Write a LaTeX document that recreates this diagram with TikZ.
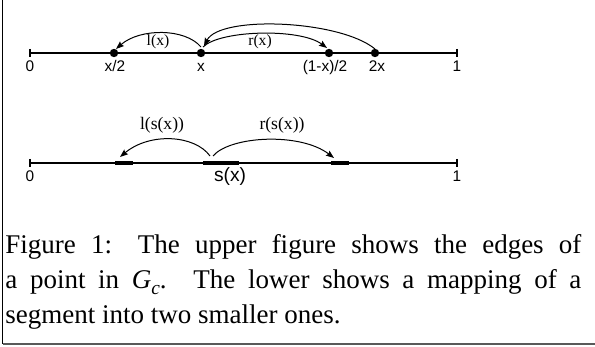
\documentclass[tikz,border=0pt]{standalone}
\usepackage{fontspec}
\setmainfont{Liberation Serif}
\newfontfamily\lsans{Liberation Sans}
\usetikzlibrary{arrows.meta}
\tikzset{
  axis/.style={line width=0.55pt},
  tickmark/.style={line width=0.55pt},
  dotpt/.style={circle,fill=black,inner sep=0pt,minimum size=4.2pt},
  seg/.style={line width=2pt},
  arc/.style={line width=0.5pt,-{Stealth[length=4pt,width=3pt,inset=0.6pt]}},
  sanslab/.style={anchor=base,inner sep=0pt,font=\lsans\fontsize{7.7}{8}\selectfont},
  seriflab/.style={anchor=base,inner sep=0pt,font=\fontsize{7.8}{8}\selectfont},
  seriflabB/.style={anchor=base,inner sep=0pt,font=\fontsize{8.8}{9}\selectfont},
  capline/.style={anchor=base west,inner sep=0pt,font=\fontsize{13.5}{16}\selectfont}
}
\begin{document}
\begin{tikzpicture}[x=0.5pt,y=-0.5pt]
\useasboundingbox (0,0) rectangle (595,347);
% frame
\draw[line width=0.75pt] (2.5,0) -- (2.5,344);
\draw[line width=1pt,gray!70!black] (2.5,344) -- (595,344);
% upper axis
\coordinate (u0) at (30,53);
\coordinate (u1) at (457,53);
\draw[axis] (u0) -- (u1);
\draw[tickmark] (30,49) -- (30,57);
\draw[tickmark] (457,49) -- (457,57);
\node[dotpt] (dA) at (114,53) {};
\node[dotpt] (dX) at (201,53) {};
\node[dotpt] (dB) at (329,53) {};
\node[dotpt] (dC) at (375,53) {};
\node[sanslab] (t0) at (30,72) {0};
\node[sanslab] (tA) at (115,72) {x/2};
\node[sanslab] (tX) at (201,72) {x};
\node[sanslab] (tB) at (325,72) {(1-x)/2};
\node[sanslab] (tC) at (377,72) {2x};
\node[sanslab] (t1) at (457,72) {1};
\coordinate (xl) at (201,47);
\coordinate (xr) at (203,47);
\coordinate (ae) at (116,49);
\coordinate (be) at (327,48);
\coordinate (cs) at (375,49);
\coordinate (xe) at (204,46);
\draw[arc] (xl) .. controls (185,28) and (140,28) .. (ae);
\draw[arc] (xr) .. controls (220,30) and (300,28) .. (be);
\draw[arc] (cs) .. controls (340,20) and (220,15) .. (xe);
\node[seriflab] (lx) at (158,46) {l(x)};
\node[seriflab] (rx) at (260,46) {r(x)};
% lower axis
\coordinate (v0) at (30,163);
\coordinate (v1) at (457,163);
\draw[axis] (v0) -- (v1);
\draw[tickmark] (30,159) -- (30,167);
\draw[tickmark] (457,159) -- (457,167);
\coordinate (sL1) at (115,163); \coordinate (sL2) at (133,163);
\coordinate (sM1) at (203,163); \coordinate (sM2) at (239,163);
\coordinate (sR1) at (331,163); \coordinate (sR2) at (349,163);
\draw[seg] (sL1) -- (sL2);
\draw[seg] (sM1) -- (sM2);
\draw[seg] (sR1) -- (sR2);
\node[sanslab] (w0) at (30,182) {0};
\node[sanslab,font=\lsans\fontsize{9.6}{10}\selectfont] (ws) at (230,182) {s(x)};
\node[sanslab] (w1) at (457,182) {1};
\coordinate (ml) at (210,156);
\coordinate (mr) at (213,156);
\coordinate (le) at (120,157);
\coordinate (re) at (334,158);
\draw[arc] (ml) .. controls (195,135) and (150,132) .. (le);
\draw[arc] (mr) .. controls (230,136) and (300,132) .. (re);
\node[seriflabB] (lsx) at (162,130) {l(s(x))};
\node[seriflabB] (rsx) at (282,130) {r(s(x))};
% caption
\node[capline] (c1) at (5,254) {\makebox[288pt][s]{Figure 1: The upper figure shows the edges of}};
\node[capline] (c2) at (5,289) {\makebox[288pt][s]{a point in \textit{G}\raisebox{-0.22em}{\fontsize{9.7}{10}\selectfont\textit{c}}. The lower shows a mapping of a}};
\node[capline] (c3) at (5,324) {segment into two smaller ones.};
\end{tikzpicture}
\end{document}
